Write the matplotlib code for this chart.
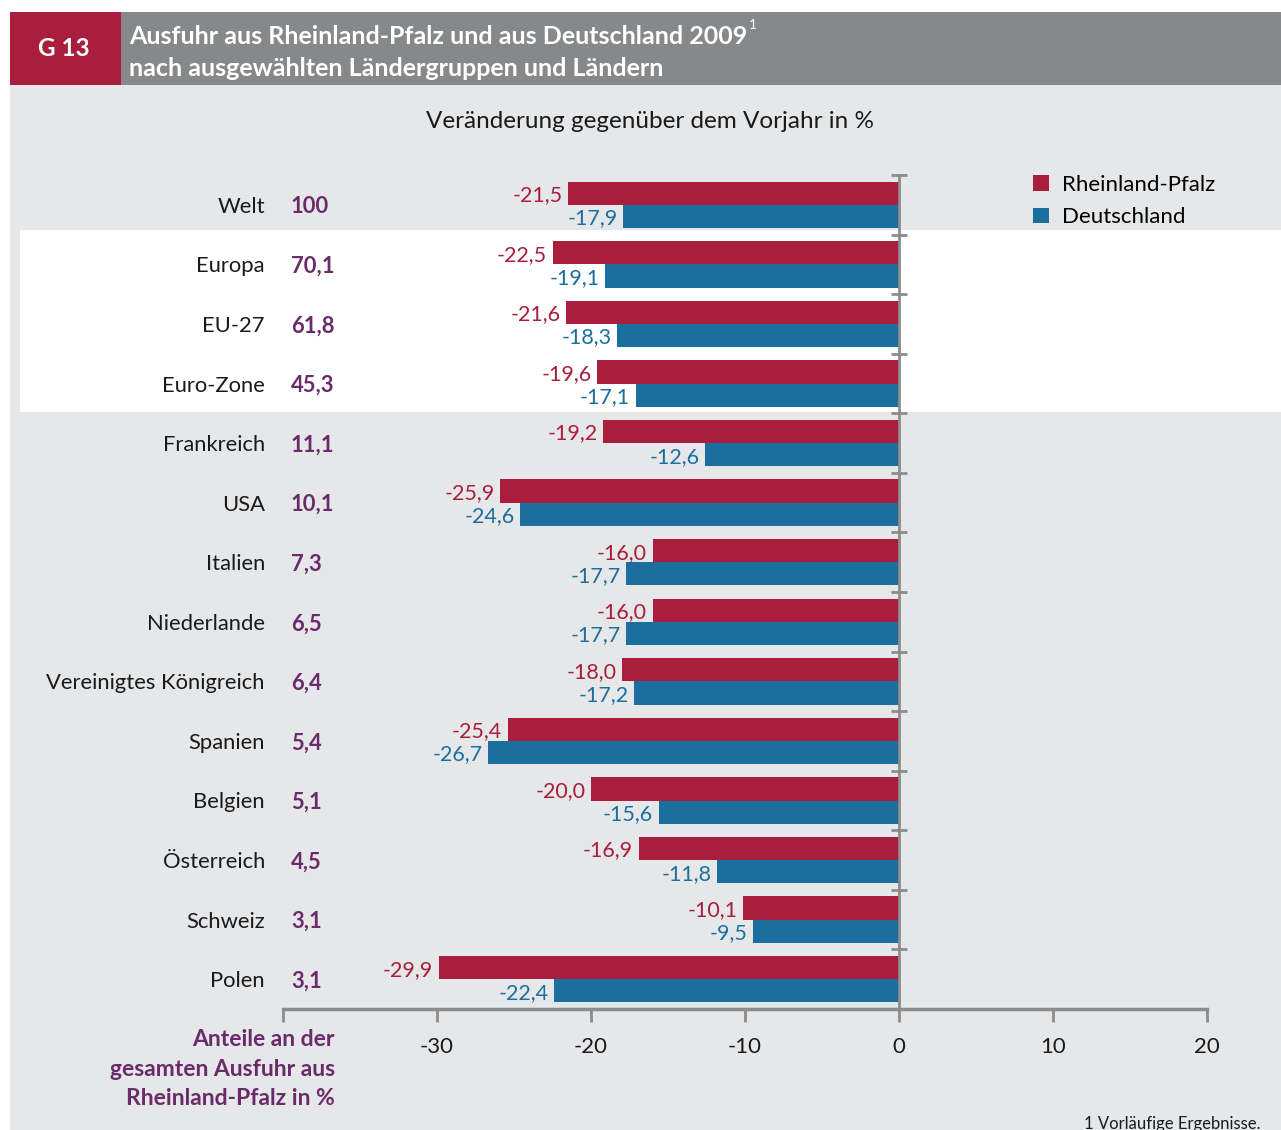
import matplotlib.pyplot as plt
from matplotlib.patches import Rectangle

plt.rcParams['font.family'] = ['Lato', 'DejaVu Sans']

categories = ['Welt', 'Europa', 'EU-27', 'Euro-Zone', 'Frankreich', 'USA', 'Italien',
              'Niederlande', 'Vereinigtes Königreich', 'Spanien', 'Belgien',
              'Österreich', 'Schweiz', 'Polen']
shares = ['100', '70,1', '61,8', '45,3', '11,1', '10,1', '7,3', '6,5', '6,4', '5,4',
          '5,1', '4,5', '3,1', '3,1']
rlp = [-21.5, -22.5, -21.6, -19.6, -19.2, -25.9, -16.0, -16.0, -18.0, -25.4, -20.0,
       -16.9, -10.1, -29.9]
de = [-17.9, -19.1, -18.3, -17.1, -12.6, -24.6, -17.7, -17.7, -17.2, -26.7, -15.6,
      -11.8, -9.5, -22.4]
series_names = ['Rheinland-Pfalz', 'Deutschland']
xticks = [-40, -30, -20, -10, 0, 10, 20]

RED = '#a81e3c'
BLUE = '#1b6f9e'
PURPLE = '#6a2b6a'
GREY_AX = '#8c8c8c'
W, H = 1281, 1130

fig = plt.figure(figsize=(W / 100, H / 100), dpi=100)


def rect(x, y, w, h, color):
    # pixel box (top-left origin) -> figure fraction
    fig.add_artist(Rectangle((x / W, 1 - (y + h) / H), w / W, h / H,
                             transform=fig.transFigure, color=color, lw=0, zorder=-10))


# panels
rect(10, 85, 1271, 1045, '#e6e7e9')
rect(10, 12, 111, 73, '#a81e3c')
rect(121, 12, 1160, 73, '#878889')
rect(20, 230, 1261, 182, 'white')

# header
fig.text(64 / W, 1 - 48 / H, 'G 13', color='white', fontsize=17.5, fontweight='bold',
         ha='center', va='center')
t1 = fig.text(129 / W, 1 - 36 / H, 'Ausfuhr aus Rheinland-Pfalz und aus Deutschland 2009',
              color='white', fontsize=18, fontweight='bold', ha='left', va='center')
fig.text(129 / W, 1 - 69 / H, 'nach ausgewählten Ländergruppen und Ländern',
         color='white', fontsize=18, fontweight='bold', ha='left', va='center')
fig.text(650 / W, 1 - 121 / H, 'Veränderung gegenüber dem Vorjahr in %', fontsize=17.5,
         ha='center', va='center', color='#1a1a1a')

ax = fig.add_axes([283 / W, 1 - 1009 / H, 924 / W, 834 / H])
ax.set_facecolor('none')
ax.annotate('1', xy=(1, 1), xycoords=t1, xytext=(1, 4), textcoords='offset points',
            fontsize=10, color='white', ha='left', va='top')

pos = list(range(len(categories)))
bh = 0.39
b1 = ax.barh([p - bh / 2 for p in pos], rlp, height=bh, color=RED, label=series_names[0])
b2 = ax.barh([p + bh / 2 for p in pos], de, height=bh, color=BLUE, label=series_names[1])

for p, v in zip(pos, rlp):
    ax.annotate(f'{v:.1f}'.replace('.', ','), (v, p - bh / 2), xytext=(-4, 0),
                textcoords='offset points', ha='right', va='center_baseline',
                color=RED, fontsize=15.5)
for p, v in zip(pos, de):
    ax.annotate(f'{v:.1f}'.replace('.', ','), (v, p + bh / 2), xytext=(-4, 0),
                textcoords='offset points', ha='right', va='center_baseline',
                color=BLUE, fontsize=15.5)

ytr = ax.get_yaxis_transform()
for p, c, s in zip(pos, categories, shares):
    ax.text(-18 / 924, p, c, transform=ytr, ha='right', va='center_baseline',
            fontsize=15.8, color='#1a1a1a')
    ax.text(8 / 924, p, s, transform=ytr, ha='left', va='center_baseline', fontsize=15.8,
            color=PURPLE, fontweight='bold')

ax.set_xlim(-40, 20)
ax.set_ylim(len(categories) - 0.5, -0.5)
ax.set_xticks(xticks)
ax.set_xticklabels(['' if t == -40 else str(t) for t in xticks], fontsize=16,
                   color='#1a1a1a')
ax.tick_params(axis='x', length=9, width=2, color=GREY_AX, pad=11)
ax.set_yticks([p - 0.5 for p in pos])
ax.set_yticklabels([])
ax.tick_params(axis='y', direction='inout', length=12, width=2, color=GREY_AX)
for s in ['top', 'right']:
    ax.spines[s].set_visible(False)
ax.spines['left'].set_position(('data', 0))
ax.spines['left'].set_color(GREY_AX)
ax.spines['left'].set_linewidth(2)
ax.spines['bottom'].set_color(GREY_AX)
ax.spines['bottom'].set_linewidth(2.5)

fig.legend(handles=[b1, b2], labels=series_names, loc='upper left',
           bbox_to_anchor=(1013 / W, 1 - 155 / H), frameon=False, fontsize=16,
           handlelength=0.7, handleheight=0.7, handletextpad=0.6, labelspacing=0.55)

fig.text(335 / W, 1 - 1069 / H, 'Anteile an der\ngesamten Ausfuhr aus\nRheinland-Pfalz in %',
         ha='right', va='center', fontsize=16.5, fontweight='bold', color=PURPLE,
         linespacing=1.5)
fig.text(1260 / W, 1 - 1124 / H, '1 Vorläufige Ergebnisse.', ha='right', va='center',
         fontsize=12, color='#1a1a1a')

fig.savefig('out.png', dpi=100)
